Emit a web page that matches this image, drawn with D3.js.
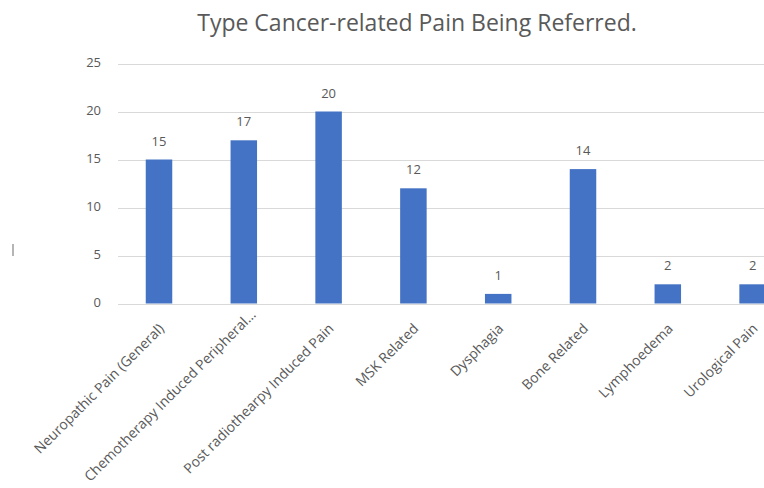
<!DOCTYPE html>
<html>
<head>
<meta charset="utf-8">
<script src="https://cdn.jsdelivr.net/npm/d3@7"></script>
<style>
  html, body { margin: 0; padding: 0; background: #fff; overflow: hidden; }
  svg { display: block; }
  text { font-family: "Open Sans", "Liberation Sans", sans-serif; }
</style>
</head>
<body>
<svg id="chart" width="764" height="488"></svg>
<script>
const categories = [
  "Neuropathic Pain (General)",
  "Chemotherapy Induced Peripheral\u2026",
  "Post radiothearpy Induced Pain",
  "MSK Related",
  "Dysphagia",
  "Bone Related",
  "Lymphoedema",
  "Urological Pain"
];
const values = [15, 17, 20, 12, 1, 14, 2, 2];
const yTicks = [0, 5, 10, 15, 20, 25];
const title = "Type Cancer-related Pain Being Referred.";

const svg = d3.select("#chart");
const textColor = "#595959";
const gridColor = "#d9d9d9";
const barColor = "#4472C4";

const plotLeft = 118, plotRightGrid = 764;

const x = d3.scaleBand()
  .domain(categories)
  .range([116.6, 795])
  .paddingInner(0.6875)
  .paddingOuter(0.34375);

const y = d3.scaleLinear()
  .domain([0, 25])
  .range([303.5, 63.5]);

// title
svg.append("text")
  .attr("x", 417)
  .attr("y", 31)
  .attr("text-anchor", "middle")
  .attr("font-size", 23)
  .attr("fill", textColor)
  .text(title);

// gridlines
svg.append("g")
  .selectAll("line")
  .data(yTicks)
  .join("line")
  .attr("x1", plotLeft)
  .attr("x2", plotRightGrid)
  .attr("y1", d => Math.round(y(d)) + 0.5)
  .attr("y2", d => Math.round(y(d)) + 0.5)
  .attr("stroke", gridColor)
  .attr("stroke-width", 1);

// y axis labels
const yAxis = d3.axisLeft(y).tickValues(yTicks).tickSize(0).tickPadding(0);
const yg = svg.append("g")
  .attr("transform", `translate(101,-1)`)
  .call(yAxis);
yg.select(".domain").remove();
yg.selectAll("text")
  .attr("font-size", 13)
  .attr("font-family", "'Open Sans', sans-serif")
  .attr("fill", textColor);

// bars
svg.append("g")
  .selectAll("rect")
  .data(values)
  .join("rect")
  .attr("x", (d, i) => x(categories[i]))
  .attr("width", x.bandwidth())
  .attr("y", d => y(d))
  .attr("height", d => y(0) - y(d))
  .attr("fill", barColor);

// value labels
svg.append("g")
  .selectAll("text")
  .data(values)
  .join("text")
  .attr("x", (d, i) => x(categories[i]) + x.bandwidth() / 2)
  .attr("y", d => y(d) - 14)
  .attr("text-anchor", "middle")
  .attr("font-size", 13)
  .attr("fill", textColor)
  .text(d => d);

// x labels
const xAxis = d3.axisBottom(x).tickSize(0).tickPadding(0);
const xg = svg.append("g")
  .attr("transform", `translate(0,${y(0)})`)
  .call(xAxis);
xg.select(".domain").remove();
xg.selectAll(".tick text")
  .attr("font-size", 14)
  .attr("font-family", "'Open Sans', sans-serif")
  .attr("fill", textColor)
  .attr("text-anchor", "end")
  .attr("dy", 0)
  .attr("y", 0)
  .attr("transform", d => d.endsWith("\u2026")
    ? "translate(13,12) rotate(-45)"
    : "translate(6,26) rotate(-45)");

// clipped axis-title remnant at left
svg.append("rect")
  .attr("x", 12)
  .attr("y", 244)
  .attr("width", 2)
  .attr("height", 12)
  .attr("fill", "#b5b5b5");
</script>
</body>
</html>
